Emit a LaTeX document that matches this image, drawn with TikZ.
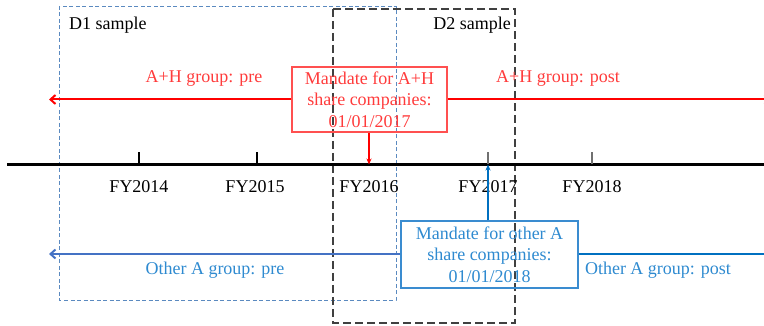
\documentclass[tikz,border=0pt]{standalone}
\usepackage{fontspec}
\setmainfont{Liberation Serif}
\usetikzlibrary{arrows.meta}
\definecolor{redline}{HTML}{FF0000}
\definecolor{redtext}{HTML}{FF3B3B}
\definecolor{redbox}{HTML}{FF5050}
\definecolor{blueleft}{HTML}{4472C4}
\definecolor{blueright}{HTML}{0070C0}
\definecolor{bluetext}{HTML}{2E8AD0}
\definecolor{blueboxc}{HTML}{3A8CD0}
\definecolor{donebox}{HTML}{5B8AC0}
\definecolor{dtwobox}{HTML}{404040}
\definecolor{tickgray}{HTML}{707070}
\tikzset{
  lbl/.style={inner sep=0pt, font=\fontsize{18}{21}\selectfont},
  mandbox/.style={draw, line width=1.2pt, align=center, inner sep=0pt, font=\fontsize{18}{21.5}\selectfont},
  arr/.style={-{Straight Barb[length=5pt,width=9pt]}, line width=2pt},
  tickline/.style={line width=1.1pt},
}
\begin{document}
\begin{tikzpicture}[x=1pt,y=-1pt]
\useasboundingbox (0,0) rectangle (764,326);
% sample boxes
\draw[donebox, line width=0.9pt, dash pattern=on 4pt off 2.5pt] (59,6) rectangle (396,300);
\draw[dtwobox, line width=1.1pt, dash pattern=on 8pt off 4pt] (333,9) rectangle (515,323);
\node[lbl, anchor=west] (d1) at (69,25) {D1 sample};
\node[lbl, anchor=east] (d2) at (511,25) {D2 sample};
% timeline
\coordinate (tl0) at (7,164.5);
\coordinate (tl1) at (764,164.5);
\draw[line width=2.2pt] (tl0) -- (tl1);
\coordinate (t14) at (139,164.5);
\coordinate (t15) at (257,164.5);
\coordinate (t16) at (369,164.5);
\coordinate (t17) at (488,164.5);
\coordinate (t18) at (592,164.5);
\draw[tickline] (t14) -- ++(0,-12);
\draw[tickline] (t15) -- ++(0,-12);
\draw[tickline, tickgray] (t17) -- ++(0,-12);
\draw[tickline, tickgray] (t18) -- ++(0,-12);
\node[lbl] (fy14) at (139,187) {FY2014};
\node[lbl] (fy15) at (255,187) {FY2015};
\node[lbl] (fy16) at (369,187) {FY2016};
\node[lbl] (fy17) at (488,187) {FY2017};
\node[lbl] (fy18) at (592,187) {FY2018};
% A+H group
\node[mandbox, draw=redbox, text=redtext, minimum width=155pt, minimum height=65pt] (ah) at (369.5,99.5)
  {Mandate for A+H\\share companies:\\01/01/2017};
\coordinate (ahl) at (49,99.5);
\coordinate (ahr) at (771,99.5);
\draw[arr, redline] (ah.west) -- (ahl);
\draw[arr, redline] (ah.east) -- (ahr);
\draw[-{Stealth[length=6pt,width=5pt]}, redline, line width=1.4pt] (ah.south -| t16) -- (t16);
\node[lbl, text=redtext] (ahpre) at (204,79) {A+H group: pre};
\node[lbl, text=redtext] (ahpost) at (558,79) {A+H group: post};
% Other A group
\node[mandbox, draw=blueboxc, text=bluetext, minimum width=177pt, minimum height=67pt] (oa) at (489.5,254.5)
  {Mandate for other A\\share companies:\\01/01/2018};
\coordinate (oal) at (49,254);
\coordinate (oar) at (767,254);
\draw[arr, blueleft] (oa.west |- oal) -- (oal);
\draw[line width=2pt, blueright] (oa.east |- oar) -- (oar);
\draw[-{Stealth[length=6pt,width=5pt]}, blueright, line width=1.4pt] (oa.north -| t17) -- (t17);
\node[lbl, text=bluetext] (oapre) at (215,270) {Other A group: pre};
\node[lbl, text=bluetext] (oapost) at (658,270) {Other A group: post};
\end{tikzpicture}
\end{document}
